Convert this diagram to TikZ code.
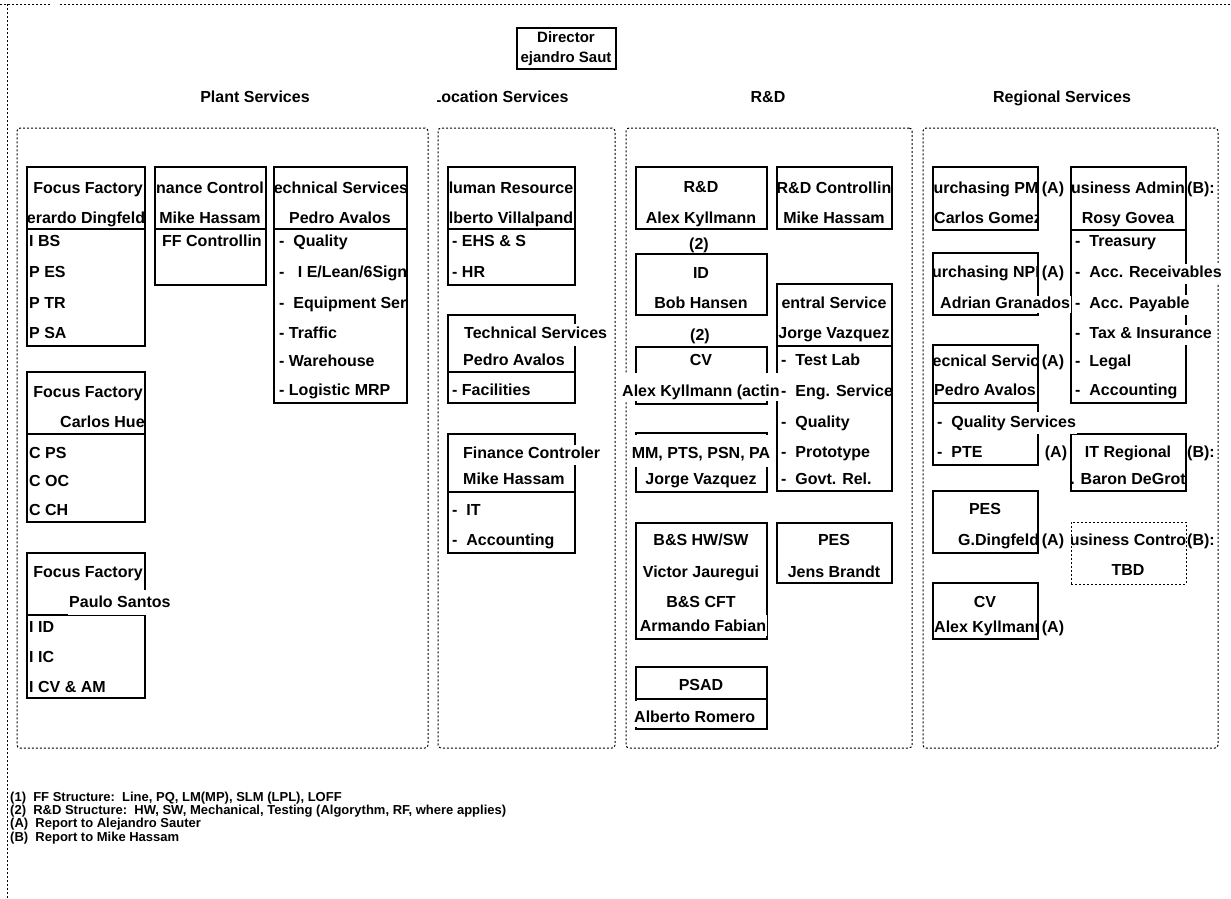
\documentclass[tikz,border=0pt]{standalone}
\usepackage{fontspec}
\setmainfont{Liberation Sans}
\newcommand\bxx[6][]{\node[bx,#1,minimum width={#5-#3},minimum height={#6-#4}] (#2) at ({(#3+#5)/2},{(#4+#6)/2}) {};}
\newcommand\dv[2]{\draw[line width=1.2pt] (#1.west |- 0,#2) -- (#1.east |- 0,#2);}
\newcommand\clipto[1]{\clip (#1.north west) rectangle (#1.south east);}
\begin{document}
\begin{tikzpicture}[x=1pt,y=-1pt,
  bx/.style={draw,line width=1.2pt,inner sep=0pt,outer sep=0pt},
  fr/.style={draw,line width=1pt,dash pattern=on 2pt off 2pt,rounded corners=3pt},
  dl/.style={line width=1pt,dash pattern=on 2pt off 2pt},
  tx/.style={inner sep=0pt,anchor=base,yshift=-5.75pt,font=\bfseries\fontsize{16}{18}\selectfont},
  lt/.style={tx,anchor=base west},
  cov/.style={fill=white,inner xsep=1pt,inner ysep=1pt},
  ttl/.style={tx,yshift=0pt,font=\bfseries\fontsize{16}{18}\selectfont},
  dt/.style={tx,yshift=0.4pt,font=\bfseries\fontsize{15}{17}\selectfont},
  lg/.style={inner sep=0pt,anchor=base west,yshift=-4.7pt,font=\bfseries\fontsize{13}{14}\selectfont}]
\useasboundingbox (0,0) rectangle (1231,898);
% outer frame
\coordinate (oa) at (0,4); \coordinate (ob) at (50,4); \coordinate (oc) at (60,4);
\coordinate (od) at (1231,4); \coordinate (oe) at (7,4); \coordinate (of) at (7,898);
\draw[dl] (oa) -- (ob); \draw[dl] (oc) -- (od); \draw[dl] (oe) -- (of);
% director
\bxx{dir}{517}{28}{616}{69}
\begin{scope}\clipto{dir}
\node[dt] (tdir1) at (566,37) {Director};
\node[dt] (tdir2) at (566,57) {ejandro Saut};
\end{scope}
% section titles
\node[ttl] (s1) at (255,97) {Plant Services};
\begin{scope}\clip (437,80) rectangle (620,115);
\node[ttl] (s2) at (500,97) {Location Services};
\end{scope}
\node[ttl] (s3) at (768,97) {R\&D};
\node[ttl] (s4) at (1062,97) {Regional Services};
% section frames
\bxx[fr]{plant}{17}{128}{428}{748}
\bxx[fr]{loc}{438}{128}{615}{748}
\bxx[fr]{rdf}{626}{128}{912}{748}
\bxx[fr]{reg}{923}{128}{1218}{748}
% boxes
\bxx{ff1}{27}{167}{145}{346}
\bxx{fin}{155}{167}{266}{285}
\bxx{tsp}{274}{167}{407}{403}
\bxx{ff2}{27}{372}{145}{522}
\bxx{ff3}{27}{553}{145}{698}
\bxx{hr}{448}{167}{575}{285}
\bxx{tsl}{448}{315}{575}{403}
\bxx{fcl}{448}{434}{575}{553}
\bxx{rd}{636}{167}{767}{229}
\bxx{idb}{636}{254}{767}{315}
\bxx{cvb}{636}{347}{767}{404}
\bxx{mmb}{636}{433}{767}{492}
\bxx{rdc}{777}{167}{892}{229}
\bxx{csb}{777}{284}{892}{491}
\bxx{bsb}{636}{523}{767}{639}
\bxx{pesb}{777}{523}{892}{583}
\bxx{psad}{636}{667}{767}{729}
\bxx{ppm}{933}{167}{1038}{230}
\bxx{bab}{1071}{167}{1186}{403}
\bxx{pnpi}{933}{253}{1038}{315}
\bxx{tsr}{933}{345}{1038}{465}
\bxx{itr}{1071}{434}{1186}{491}
\bxx{pes2}{933}{491}{1038}{553}
\bxx[dl]{bcb}{1071}{522}{1186}{584}
\bxx{cv2}{933}{583}{1038}{639}
% dividers
\dv{ff1}{229} \dv{fin}{229} \dv{tsp}{229} \dv{ff2}{434} \dv{ff3}{615}
\dv{hr}{229} \dv{tsl}{372} \dv{fcl}{492} \dv{csb}{346} \dv{psad}{699}
\dv{bab}{230} \dv{tsr}{403}
% ---- Plant Services
\begin{scope}\clipto{ff1}
\node[tx] (a1) at (88,188) {Focus Factory};
\node[tx] (a2) at (86,218) {erardo Dingfeld};
\node[lt] (a3) at (29,241) {I BS};
\node[lt] (a4) at (29,272) {P ES};
\node[lt] (a5) at (29,303) {P TR};
\node[lt] (a6) at (29,333) {P SA};
\end{scope}
\begin{scope}\clipto{fin}
\node[tx] (b1) at (210,188) {nance Control};
\node[tx] (b2) at (210,218) {Mike Hassam};
\node[lt] (b3) at (162,241) {FF Controllin};
\end{scope}
\begin{scope}\clipto{tsp}
\node[tx] (c1) at (341,188) {echnical Services};
\node[tx] (c2) at (340,218) {Pedro Avalos};
\node[lt] (c3) at (279,241) {-\ \ Quality};
\node[lt] (c4) at (279,272) {-\ \ \ I E/Lean/6Sign};
\node[lt] (c5) at (279,303) {-\ \ Equipment Ser};
\node[lt] (c6) at (279,333) {- Traffic};
\node[lt] (c7) at (279,361) {- Warehouse};
\node[lt] (c8) at (279,390) {- Logistic MRP};
\end{scope}
\begin{scope}\clipto{ff2}
\node[tx] (d1) at (88,392) {Focus Factory};
\node[lt] (d2) at (60,422) {Carlos Hue};
\node[lt] (d3) at (29,453) {C PS};
\node[lt] (d4) at (29,481) {C OC};
\node[lt] (d5) at (29,510) {C CH};
\end{scope}
\begin{scope}\clipto{ff3}
\node[tx] (e1) at (88,572) {Focus Factory};
\node[lt] (e3) at (29,627) {I ID};
\node[lt] (e4) at (29,657) {I IC};
\node[lt] (e5) at (29,687) {I CV \& AM};
\end{scope}
\node[lt,cov,text height=17pt,text depth=6pt] (e2) at (68,602) {Paulo Santos};
% ---- Location Services
\begin{scope}\clipto{hr}
\node[tx] (f1) at (511,188) {luman Resource};
\node[tx] (f2) at (511,218) {lberto Villalpand};
\node[lt] (f3) at (452,241) {- EHS \& S};
\node[lt] (f4) at (452,272) {- HR};
\end{scope}
\node[lt,cov,text height=11.5pt,text depth=4pt,inner ysep=3pt] (g1) at (463,333) {Technical Services};
\node[lt] (g2) at (463,360) {Pedro Avalos};
\node[lt] (g3) at (452,390) {- Facilities};
\node[lt,cov,text height=13pt,text depth=5pt] (h1) at (462,453) {Finance Controler};
\node[lt] (h2) at (463,479) {Mike Hassam};
\node[lt] (h3) at (452,510) {-\ \ IT};
\node[lt] (h4) at (452,540) {-\ \ Accounting};
% ---- R&D
\node[tx] (i1) at (701,187) {R\&D};
\node[tx] (i2) at (701,218) {Alex Kyllmann};
\node[tx] (i3) at (699,244) {(2)};
\node[tx] (j1) at (701,273) {ID};
\node[tx] (j2) at (701,303) {Bob Hansen};
\node[tx] (j3) at (700,335) {(2)};
\node[tx] (k1) at (701,360) {CV};
\node[lt,cov,text height=23pt,text depth=3.5pt,inner ysep=0.5pt] (k2) at (621,391) {Alex Kyllmann (actin};
\node[tx,cov,text height=23pt,text depth=8pt,inner ysep=0.5pt] (l1) at (701,453) {MM, PTS, PSN, PA};
\node[tx] (l2) at (701,479) {Jorge Vazquez};
\begin{scope}\clipto{rdc}
\node[tx] (m1) at (834,188) {R\&D Controllin};
\node[tx] (m2) at (834,218) {Mike Hassam};
\end{scope}
\begin{scope}\clipto{csb}
\node[tx] (n1) at (834,303) {entral Service};
\node[tx] (n2) at (834,333) {Jorge Vazquez};
\node[lt] (n3) at (781,360) {-\ \ Test Lab};
\node[lt] (n4) at (781,391) {-\ \ Eng. Service};
\node[lt] (n5) at (781,422) {-\ \ Quality};
\node[lt] (n6) at (781,452) {-\ \ Prototype};
\node[lt] (n7) at (781,479) {-\ \ Govt. Rel.};
\end{scope}
\node[tx] (o1) at (701,540) {B\&S HW/SW};
\node[tx] (o2) at (701,572) {Victor Jauregui};
\node[tx] (o3) at (701,602) {B\&S CFT};
\node[tx,cov,text height=16pt,text depth=3.5pt,inner ysep=0.5pt] (o4) at (703,626) {Armando Fabian};
\node[tx] (p1) at (834,540) {PES};
\node[tx] (p2) at (834,572) {Jens Brandt};
\node[tx] (q1) at (701,685) {PSAD};
\node[lt,cov,text height=21.5pt,text depth=4pt,inner ysep=0.5pt] (q2) at (633,717) {Alberto Romero};
% ---- Regional Services
\begin{scope}\clipto{ppm}
\node[tx] (r1) at (986,188) {urchasing PM};
\node[lt] (r2) at (934,218) {Carlos Gomez};
\end{scope}
\node[tx] (r3) at (1053,188) {(A)};
\begin{scope}\clipto{bab}
\node[tx] (s5) at (1128,188) {usiness Admin};
\node[tx] (s6) at (1128,218) {Rosy Govea};
\node[lt] (s7) at (1075,241) {-\ \ Treasury};
\node[lt] (s10) at (1075,361) {-\ \ Legal};
\node[lt] (s11) at (1075,390) {-\ \ Accounting};
\end{scope}
\node[lt,cov,text height=13pt,text depth=5pt] (s8) at (1074,272) {-\ \ Acc. Receivables};
\node[lt,cov,text height=13pt,text depth=5pt] (s9) at (1074,303) {-\ \ Acc. Payable};
\node[lt,cov,text height=13pt,text depth=5pt] (s12) at (1074,333) {-\ \ Tax \& Insurance};
\node[tx] (s13) at (1201,188) {(B):};
\begin{scope}\clipto{pnpi}
\node[tx] (u1) at (986,272) {urchasing NPI};
\end{scope}
\node[tx] (u2) at (1053,272) {(A)};
\node[lt,cov,text height=12pt,text depth=3.5pt,inner ysep=1pt] (u3) at (939,303) {Adrian Granados};
\begin{scope}\clipto{tsr}
\node[tx] (v1) at (986,361) {ecnical Servic};
\node[lt] (v2) at (934,390) {Pedro Avalos};
\node[lt] (v5) at (937,452) {-\ \ PTE};
\end{scope}
\node[tx] (v3) at (1053,361) {(A)};
\node[lt,cov,text height=15pt,text depth=5pt] (v4) at (936,422) {-\ \ Quality Services};
\node[tx] (v6) at (1056,452) {(A)};
\begin{scope}\clipto{itr}
\node[tx] (w1) at (1128,452) {IT Regional};
\node[tx] (w2) at (1128,479) {. Baron DeGrot};
\end{scope}
\node[tx] (w3) at (1201,452) {(B):};
\node[tx] (x1) at (985,509) {PES};
\begin{scope}\clipto{pes2}
\node[lt] (x2) at (958,540) {G.Dingfeld};
\end{scope}
\node[tx] (x3) at (1053,540) {(A)};
\begin{scope}\clipto{bcb}
\node[tx] (y1) at (1128,540) {usiness Contro};
\node[tx] (y2) at (1128,570) {TBD};
\end{scope}
\node[tx] (y3) at (1201,540) {(B):};
\node[tx] (z1) at (985,602) {CV};
\begin{scope}\clipto{cv2}
\node[lt] (z2) at (934,627) {Alex Kyllmann};
\end{scope}
\node[tx] (z3) at (1053,627) {(A)};
% legend
\node[lg] (L1) at (10,797) {(1)\ \ FF Structure:\ \ Line, PQ, LM(MP), SLM (LPL), LOFF};
\node[lg] (L2) at (10,810) {(2)\ \ R\&D Structure:\ \ HW, SW, Mechanical, Testing (Algorythm, RF, where applies)};
\node[lg] (L3) at (10,823) {(A)\ \ Report to Alejandro Sauter};
\node[lg] (L4) at (10,837) {(B)\ \ Report to Mike Hassam};
\end{tikzpicture}
\end{document}
